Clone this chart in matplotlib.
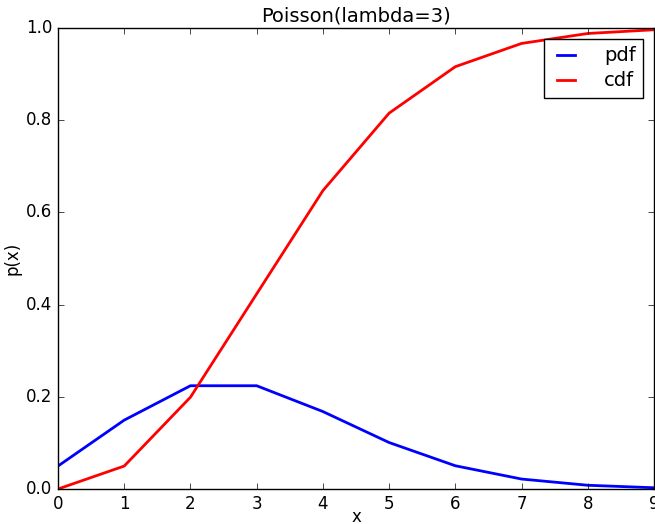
import matplotlib
matplotlib.use("Agg")
import matplotlib.pyplot as plt

plt.style.use("classic")

x = [0, 1, 2, 3, 4, 5, 6, 7, 8, 9]
pdf = [0.0498, 0.1494, 0.2240, 0.2240, 0.1680, 0.1008, 0.0504, 0.0216, 0.0081, 0.0027]
cdf = [0.0, 0.0498, 0.1991, 0.4232, 0.6472, 0.8153, 0.9161, 0.9665, 0.9881, 0.9962]

fig = plt.figure(figsize=(6.55, 5.24), dpi=100, facecolor="white")
ax = fig.add_axes([58/655, 35/524, 596/655, 461/524])
ax.plot(x, pdf, color="blue", lw=2, label="pdf")
ax.plot(x, cdf, color="red", lw=2, label="cdf")
ax.set_xlim(0, 9)
ax.set_ylim(0, 1.0)
ax.set_xticks(x)
ax.set_yticks([0.0, 0.2, 0.4, 0.6, 0.8, 1.0])
ax.set_title("Poisson(lambda=3)", fontsize=14, pad=5)
ax.set_xlabel("x", fontsize=12, labelpad=-3)
ax.set_ylabel("p(x)", fontsize=12, labelpad=3)
ax.tick_params(labelsize=12)
ax.legend(loc="upper right", fontsize=14, handlelength=1.5, handletextpad=1.2,
          labelspacing=0.3, borderpad=0.4, borderaxespad=0.55)
fig.savefig("out.png", dpi=100, facecolor="white")
